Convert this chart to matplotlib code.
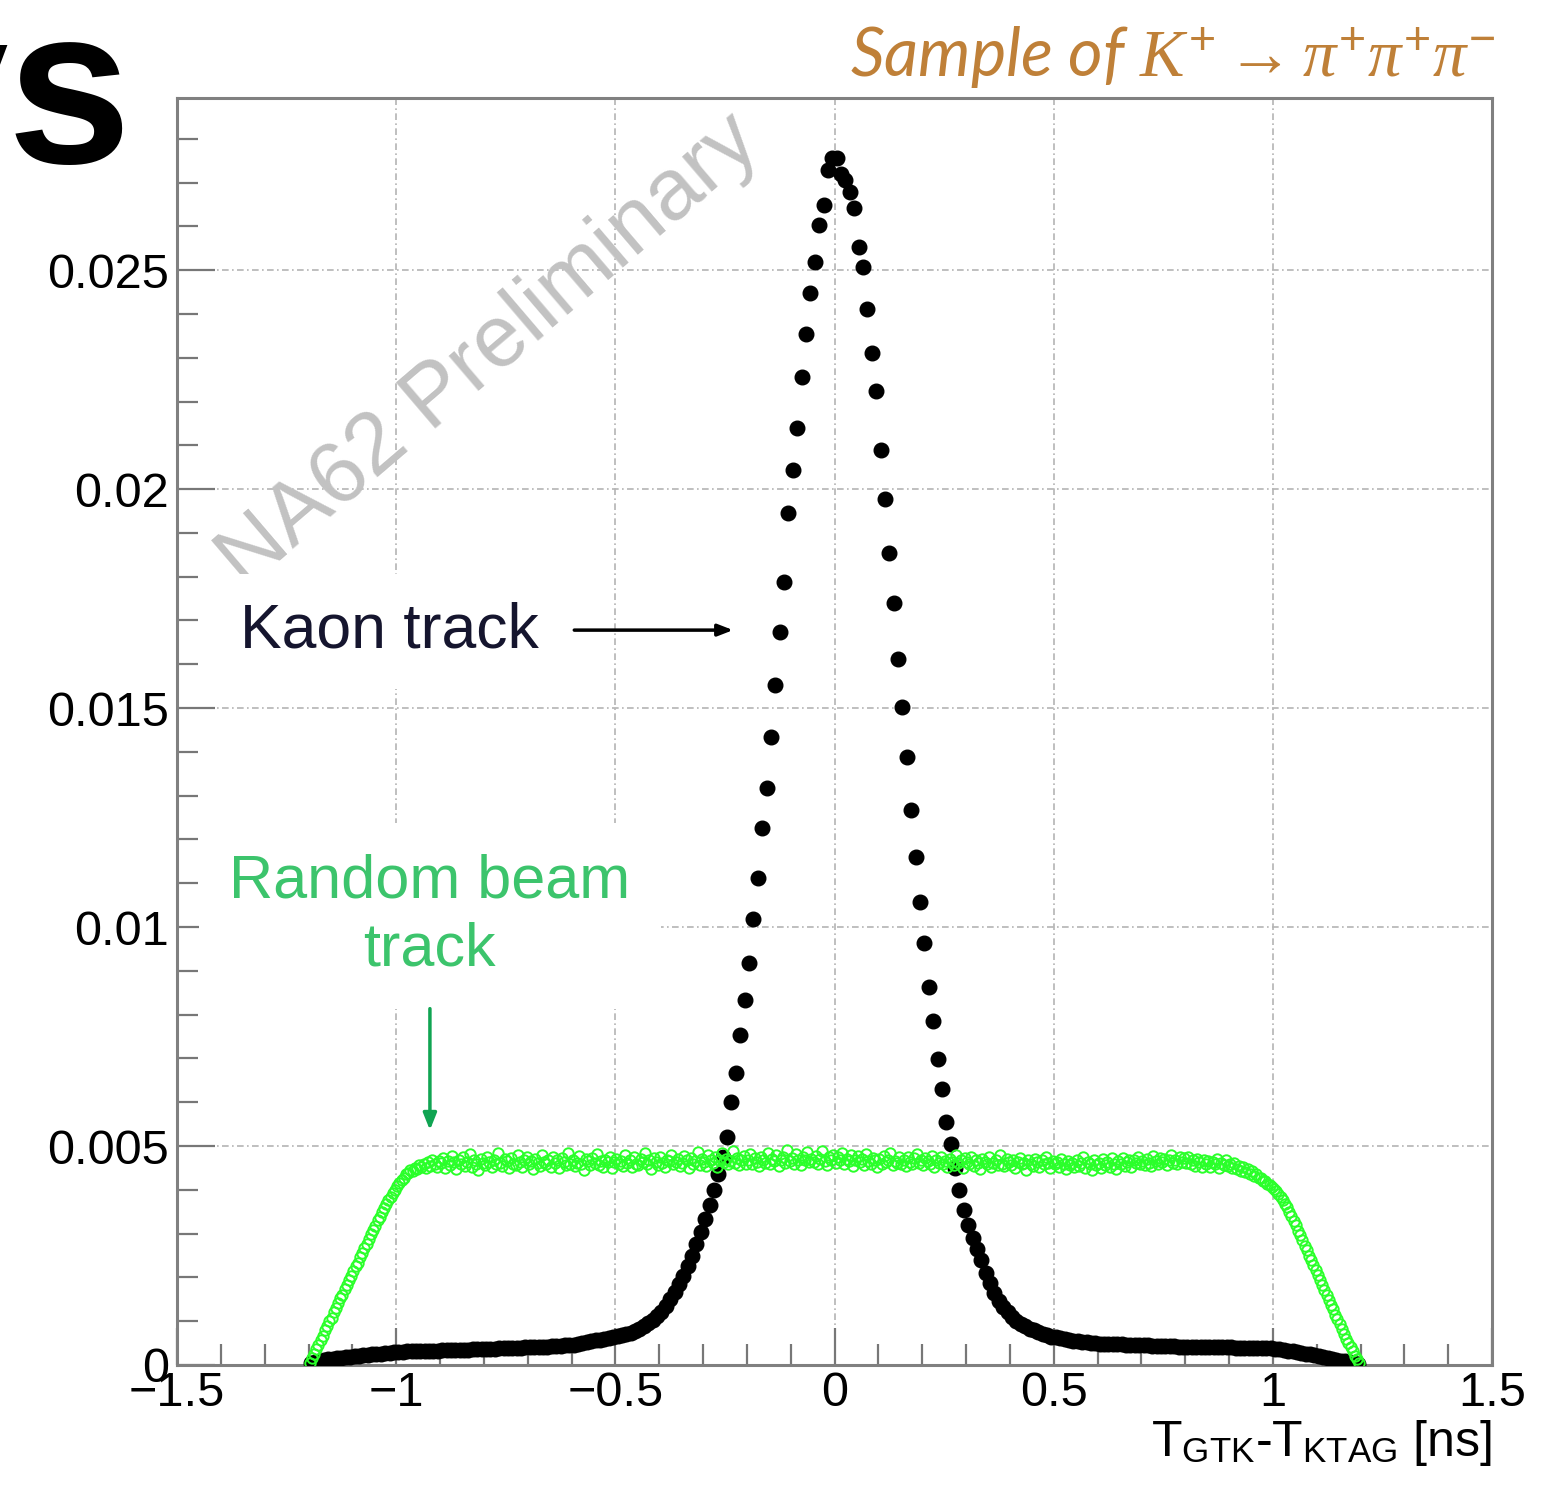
import numpy as np
import matplotlib
matplotlib.use('Agg')
import matplotlib.pyplot as plt
from matplotlib.ticker import MultipleLocator, FuncFormatter

plt.rcParams['font.family'] = ['Liberation Sans', 'DejaVu Sans']
plt.rcParams['mathtext.fontset'] = 'custom'
plt.rcParams['mathtext.rm'] = 'Liberation Sans'
plt.rcParams['mathtext.it'] = 'Liberation Serif:italic'
plt.rcParams['mathtext.bf'] = 'Liberation Sans:bold'

# kaon track: 240 bins of 0.01 ns from -1.2 to 1.2 ns, values in units of 1e-3
kaon_bin = 0.01
kaon = [
    0.04, 0.07, 0.09, 0.11, 0.13, 0.14, 0.16, 0.17, 0.18, 0.19,
    0.20, 0.21, 0.22, 0.23, 0.24, 0.25, 0.26, 0.27, 0.28, 0.29,
    0.30, 0.30, 0.31, 0.31, 0.32, 0.32, 0.32, 0.33, 0.33, 0.33,
    0.34, 0.34, 0.34, 0.35, 0.35, 0.35, 0.35, 0.36, 0.36, 0.36,
    0.37, 0.37, 0.37, 0.38, 0.38, 0.38, 0.39, 0.39, 0.39, 0.40,
    0.40, 0.41, 0.41, 0.42, 0.42, 0.43, 0.43, 0.44, 0.45, 0.45,
    0.46, 0.48, 0.50, 0.52, 0.54, 0.56, 0.58, 0.60, 0.62, 0.64,
    0.66, 0.68, 0.71, 0.74, 0.78, 0.82, 0.88, 0.95, 1.03, 1.12,
    1.22, 1.35, 1.50, 1.66, 1.84, 2.04, 2.26, 2.50, 2.76, 3.04,
    3.34, 3.66, 4.00, 4.36, 4.76, 5.21, 6.00, 6.67, 7.53, 8.33,
    9.18, 10.18, 11.12, 12.26, 13.17, 14.34, 15.53, 16.74, 17.88, 19.45,
    20.43, 21.39, 22.56, 23.54, 24.47, 25.18, 26.03, 26.48, 27.28, 27.56,
    27.55, 27.20, 27.05, 26.78, 26.42, 25.53, 25.07, 24.11, 23.11, 22.24,
    20.89, 19.77, 18.54, 17.40, 16.12, 15.02, 13.88, 12.67, 11.60, 10.57,
    9.63, 8.63, 7.85, 6.99, 6.30, 5.55, 5.05, 4.50, 4.00, 3.55,
    3.20, 2.90, 2.65, 2.40, 2.10, 1.87, 1.65, 1.47, 1.32, 1.20,
    1.10, 1.01, 0.94, 0.88, 0.83, 0.79, 0.75, 0.71, 0.68, 0.65,
    0.63, 0.61, 0.59, 0.57, 0.55, 0.54, 0.53, 0.52, 0.51, 0.50,
    0.49, 0.49, 0.48, 0.48, 0.47, 0.47, 0.46, 0.46, 0.46, 0.45,
    0.45, 0.45, 0.44, 0.44, 0.44, 0.43, 0.43, 0.43, 0.42, 0.42,
    0.42, 0.42, 0.41, 0.41, 0.41, 0.41, 0.40, 0.40, 0.40, 0.40,
    0.40, 0.39, 0.39, 0.39, 0.39, 0.39, 0.39, 0.38, 0.38, 0.38,
    0.37, 0.36, 0.35, 0.33, 0.31, 0.30, 0.28, 0.26, 0.24, 0.22,
    0.20, 0.18, 0.16, 0.14, 0.12, 0.10, 0.08, 0.06, 0.04, 0.02,
]

# random beam track: 480 bins of 0.005 ns from -1.2 to 1.2 ns, units of 1e-3
beam_bin = 0.005
random_beam = [
    # rise -1.2 .. -1.0
    0.05, 0.16, 0.24, 0.37, 0.46, 0.58, 0.66, 0.79, 0.88, 1.00,
    1.08, 1.21, 1.30, 1.41, 1.52, 1.60, 1.73, 1.82, 1.95, 2.03,
    2.14, 2.26, 2.34, 2.47, 2.56, 2.68, 2.77, 2.88, 2.98, 3.09,
    3.18, 3.30, 3.38, 3.50, 3.58, 3.68, 3.77, 3.84, 3.93, 4.00,
    # -1.0 .. -0.9
    4.08, 4.15, 4.23, 4.28, 4.35, 4.38, 4.45, 4.42, 4.50, 4.48,
    4.56, 4.52, 4.60, 4.49, 4.63, 4.55, 4.68, 4.58, 4.52, 4.66,
    # plateau -0.9 .. 0.9
    4.61, 4.72, 4.50, 4.66, 4.57, 4.78, 4.63, 4.48, 4.69, 4.59,
    4.74, 4.55, 4.64, 4.81, 4.52, 4.67, 4.60, 4.45, 4.71, 4.62,
    4.56, 4.76, 4.63, 4.51, 4.69, 4.58, 4.83, 4.61, 4.54, 4.70,
    4.65, 4.49, 4.73, 4.60, 4.57, 4.79, 4.64, 4.52, 4.68, 4.75,
    4.58, 4.66, 4.47, 4.71, 4.62, 4.55, 4.80, 4.63, 4.59, 4.69,
    4.53, 4.74, 4.61, 4.67, 4.50, 4.72, 4.64, 4.57, 4.85, 4.60,
    4.68, 4.54, 4.62, 4.77, 4.59, 4.46, 4.70, 4.65, 4.56, 4.73,
    4.61, 4.82, 4.57, 4.66, 4.52, 4.69, 4.63, 4.75, 4.49, 4.64,
    4.71, 4.58, 4.65, 4.54, 4.79, 4.62, 4.68, 4.51, 4.74, 4.60,
    4.56, 4.70, 4.63, 4.84, 4.59, 4.67, 4.48, 4.72, 4.64, 4.57,
    4.75, 4.61, 4.53, 4.69, 4.66, 4.80, 4.58, 4.64, 4.71, 4.55,
    4.62, 4.77, 4.68, 4.50, 4.73, 4.60, 4.66, 4.86, 4.57, 4.70,
    4.64, 4.55, 4.79, 4.67, 4.61, 4.74, 4.52, 4.69, 4.83, 4.63,
    4.70, 4.58, 4.66, 4.88, 4.62, 4.73, 4.56, 4.68, 4.77, 4.60,
    4.67, 4.81, 4.59, 4.72, 4.64, 4.54, 4.76, 4.69, 4.62, 4.85,
    4.58, 4.71, 4.66, 4.79, 4.55, 4.68, 4.74, 4.61, 4.90, 4.65,
    4.73, 4.60, 4.82, 4.67, 4.57, 4.75, 4.69, 4.86, 4.63, 4.71,
    4.64, 4.78, 4.59, 4.70, 4.88, 4.66, 4.56, 4.74, 4.68, 4.80,
    4.62, 4.75, 4.67, 4.84, 4.58, 4.71, 4.65, 4.79, 4.55, 4.69,
    4.77, 4.63, 4.70, 4.56, 4.82, 4.66, 4.60, 4.73, 4.68, 4.52,
    4.71, 4.59, 4.78, 4.64, 4.68, 4.85, 4.57, 4.66, 4.62, 4.74,
    4.60, 4.69, 4.54, 4.76, 4.63, 4.58, 4.72, 4.81, 4.61, 4.67,
    4.56, 4.73, 4.65, 4.60, 4.78, 4.53, 4.69, 4.62, 4.75, 4.58,
    4.66, 4.51, 4.71, 4.64, 4.57, 4.80, 4.61, 4.68, 4.49, 4.72,
    4.63, 4.58, 4.76, 4.55, 4.67, 4.61, 4.47, 4.70, 4.64, 4.59,
    4.74, 4.52, 4.62, 4.68, 4.56, 4.79, 4.60, 4.54, 4.71, 4.63,
    4.57, 4.69, 4.50, 4.64, 4.73, 4.58, 4.62, 4.46, 4.67, 4.60,
    4.55, 4.71, 4.63, 4.52, 4.68, 4.59, 4.76, 4.61, 4.49, 4.65,
    4.58, 4.64, 4.53, 4.70, 4.60, 4.47, 4.66, 4.57, 4.62, 4.51,
    4.68, 4.55, 4.61, 4.74, 4.50, 4.63, 4.58, 4.45, 4.67, 4.56,
    4.62, 4.49, 4.70, 4.57, 4.64, 4.53, 4.72, 4.60, 4.48, 4.66,
    4.59, 4.73, 4.55, 4.63, 4.69, 4.51, 4.67, 4.61, 4.76, 4.58,
    4.65, 4.57, 4.71, 4.62, 4.54, 4.78, 4.66, 4.60, 4.73, 4.63,
    4.70, 4.56, 4.67, 4.80, 4.61, 4.69, 4.58, 4.75, 4.64, 4.72,
    4.62, 4.74, 4.59, 4.68, 4.55, 4.71, 4.64, 4.52, 4.69, 4.60,
    4.66, 4.53, 4.63, 4.58, 4.70, 4.50, 4.61, 4.56, 4.67, 4.54,
    # 0.9 .. 1.0
    4.58, 4.50, 4.62, 4.47, 4.55, 4.44, 4.52, 4.40, 4.47, 4.36,
    4.42, 4.31, 4.35, 4.26, 4.28, 4.20, 4.21, 4.13, 4.12, 4.06,
    # fall 1.0 .. 1.2
    4.02, 3.97, 3.90, 3.84, 3.77, 3.68, 3.60, 3.49, 3.40, 3.28,
    3.19, 3.06, 2.96, 2.85, 2.72, 2.63, 2.50, 2.40, 2.28, 2.17,
    2.05, 1.95, 1.82, 1.72, 1.60, 1.49, 1.37, 1.27, 1.15, 1.04,
    0.93, 0.82, 0.71, 0.60, 0.50, 0.40, 0.31, 0.21, 0.13, 0.05,
]

kaon = np.array(kaon) * 1e-3
random_beam = np.array(random_beam) * 1e-3
kaon_t = -1.2 + kaon_bin * (np.arange(len(kaon)) + 0.5)
beam_t = -1.2 + beam_bin * (np.arange(len(random_beam)) + 0.5)

fig = plt.figure(figsize=(15.62, 15), dpi=100)
ax = fig.add_axes([177/1562, 1-1365/1500, (1492-177)/1562, (1365-98)/1500])

ax.plot(kaon_t, kaon, 'o', color='black', markersize=10.5, zorder=3)
ax.plot(beam_t, random_beam, 'o', mfc='none', mec='#2aff2a', mew=1.4,
        markersize=7.5, zorder=4)

ax.set_xlim(-1.5, 1.5)
ax.set_ylim(0, 0.02893)

ax.xaxis.set_major_locator(MultipleLocator(0.5))
ax.xaxis.set_minor_locator(MultipleLocator(0.1))
ax.yaxis.set_major_locator(MultipleLocator(0.005))
ax.yaxis.set_minor_locator(MultipleLocator(0.001))
fmt = FuncFormatter(lambda v, p: ('%g' % round(v, 6)).replace('-', '\u2212'))
ax.xaxis.set_major_formatter(fmt)
ax.yaxis.set_major_formatter(fmt)

ax.tick_params(which='both', direction='in', top=False, right=False,
               color='#777777', width=1.6)
ax.tick_params(which='major', length=27, labelsize=35)
ax.tick_params(which='minor', length=15)
ax.tick_params(axis='x', pad=4)
ax.tick_params(axis='y', pad=6)

for s in ax.spines.values():
    s.set_color('#808080')
    s.set_linewidth(2.2)

ax.grid(True, which='major', color='#b4b4b4', linestyle=(0, (4, 2, 1, 2)),
        linewidth=1.2)
ax.set_axisbelow(True)

ax.set_xlabel(r'T$_{\rm GTK}$-T$_{\rm KTAG}$ [ns]', fontsize=36,
              loc='right', labelpad=2)

# watermark
ax.text(-0.786, 0.02313, 'NA62 Preliminary', fontsize=63, color='#c2c2c2',
        rotation=40.5, ha='center', va='center', rotation_mode='anchor',
        zorder=2)

# annotations
ax.text(-1.356, 0.01675, 'Kaon track', fontsize=45, color='#15152e',
        ha='left', va='center', zorder=5,
        bbox=dict(boxstyle='square,pad=0.45', fc='white', ec='none'))
ax.annotate('', xy=(-0.225, 0.01678), xytext=(-0.6, 0.01678),
            arrowprops=dict(arrowstyle='-|>,head_length=0.9,head_width=0.35',
                            color='black', lw=2.5), zorder=5)

ax.text(-0.923, 0.01025, 'Random beam\ntrack', fontsize=44, color='#3cc46c',
        ha='center', va='center', linespacing=1.25, multialignment='center',
        zorder=5,
        bbox=dict(boxstyle='square,pad=0.5', fc='white', ec='none'))
ax.annotate('', xy=(-0.923, 0.0053), xytext=(-0.923, 0.0082),
            arrowprops=dict(arrowstyle='-|>,head_length=1.0,head_width=0.4',
                            color='#10a452', lw=2.5), zorder=5)

fig.text(1495/1562, 1-57/1500,
         r'Sample of $K^{+} \rightarrow \pi^{+}\pi^{+}\pi^{-}$',
         fontsize=48, color='#bf8038', style='italic', family='Lato',
         ha='right', va='center')

fig.text(132/1562, 1-163/1500, 'ys', fontsize=160, fontweight='bold',
         color='black', ha='right', va='baseline')

fig.savefig('out.png', dpi=100)
